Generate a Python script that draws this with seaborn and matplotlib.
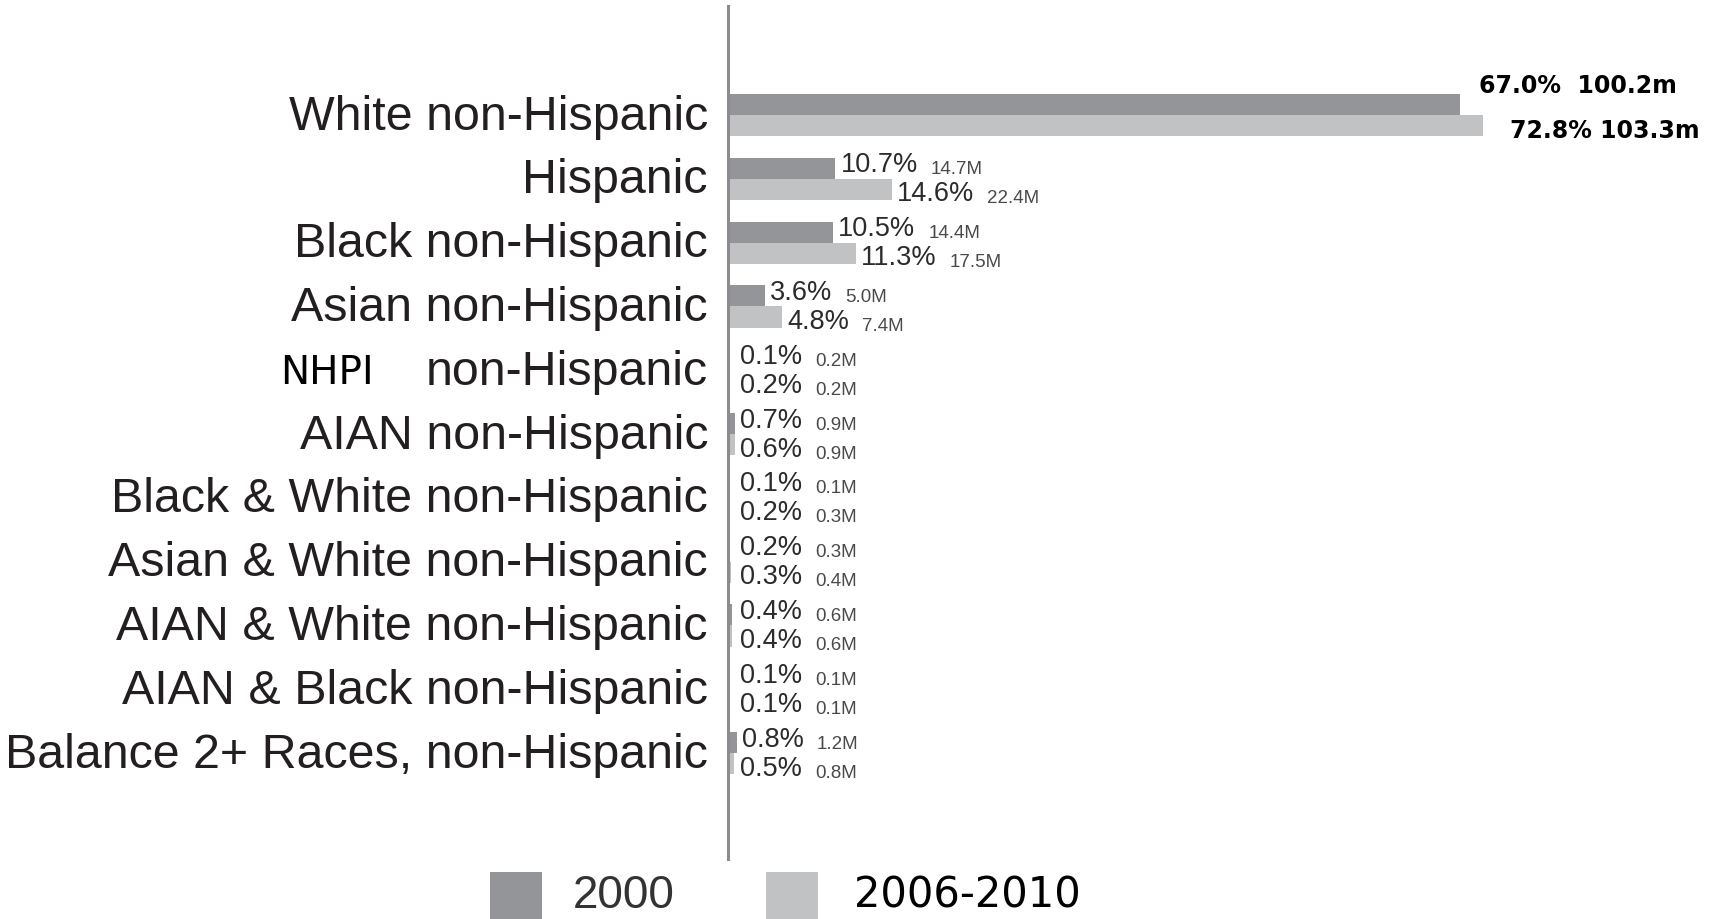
import matplotlib
matplotlib.use('Agg')
import matplotlib.pyplot as plt
from matplotlib.patches import Rectangle
from matplotlib.transforms import ScaledTranslation
import seaborn as sns
import pandas as pd

# data
groups = ["White non-Hispanic", "Hispanic", "Black non-Hispanic", "Asian non-Hispanic",
          "NHPI non-Hispanic", "AIAN non-Hispanic", "Black & White non-Hispanic",
          "Asian & White non-Hispanic", "AIAN & White non-Hispanic",
          "AIAN & Black non-Hispanic", "Balance 2+ Races, non-Hispanic"]
tick_labels = ["White non-Hispanic", "Hispanic", "Black non-Hispanic", "Asian non-Hispanic",
               "non-Hispanic", "AIAN non-Hispanic", "Black & White non-Hispanic",
               "Asian & White non-Hispanic", "AIAN & White non-Hispanic",
               "AIAN & Black non-Hispanic", "Balance 2+ Races, non-Hispanic"]
years = ["2000", "2006-2010"]
pop_2000 = [100.2, 14.7, 14.4, 5.0, 0.2, 0.9, 0.1, 0.3, 0.6, 0.1, 1.2]
pop_2010 = [103.3, 22.4, 17.5, 7.4, 0.2, 0.9, 0.3, 0.4, 0.6, 0.1, 0.8]
pct_2000 = [67.0, 10.7, 10.5, 3.6, 0.1, 0.7, 0.1, 0.2, 0.4, 0.1, 0.8]
pct_2010 = [72.8, 14.6, 11.3, 4.8, 0.2, 0.6, 0.2, 0.3, 0.4, 0.1, 0.5]

DARK = '#939598'
LIGHT = '#c1c2c4'

df = pd.DataFrame({
    'group': groups * 2,
    'pop': pop_2000 + pop_2010,
    'year': [years[0]] * len(groups) + [years[1]] * len(groups),
})

sns.set_style('white')
plt.rcParams['font.family'] = ['Liberation Sans', 'DejaVu Sans']

W, H = 1729, 920
fig = plt.figure(figsize=(W / 100, H / 100), dpi=100)
ax = fig.add_axes([728 / W, 60 / H, 1001 / W, 853 / H])

sns.barplot(data=df, y='group', x='pop', hue='year', palette=[DARK, LIGHT],
            width=0.66, linewidth=0, saturation=1, legend=False, ax=ax)

ax.set_xlim(0, 137)
ax.set_ylim(11.66, -1.71)
ax.set_xlabel('')
ax.set_ylabel('')
ax.set_xticks([])
ax.set_yticks(range(len(groups)))
ax.set_yticklabels(tick_labels)
ax.tick_params(axis='y', length=0, pad=14.4, labelsize=34.8, labelcolor='#231f20')
# row labels sit a little above the bar pair centre
lift = ScaledTranslation(0, 4 / 100, fig.dpi_scale_trans)
for lbl in ax.get_yticklabels():
    lbl.set_transform(lbl.get_transform() + lift)
for s in ['top', 'right', 'bottom']:
    ax.spines[s].set_visible(False)
ax.spines['left'].set_color('#8c8c8c')
ax.spines['left'].set_linewidth(2.2)

# value labels
pcts = [pct_2000, pct_2010]
pops = [pop_2000, pop_2010]
for h, cont in enumerate(ax.containers):
    for i, rect in enumerate(cont):
        yc = rect.get_y() + rect.get_height() / 2
        val = pops[h][i]
        if i == 0:
            # top row labels are bold black, set above/right of the bar
            txt = f"{pcts[h][i]:.1f}%  {val:.1f}m" if h == 0 else f"{pcts[h][i]:.1f}% {val:.1f}m"
            off = (19, 20) if h == 0 else (27, -4)
            ax.annotate(txt, xy=(val, yc), xytext=off, textcoords='offset pixels',
                        ha='left', va='center', fontsize=17, fontweight='bold',
                        color='black', family='DejaVu Sans')
            continue
        dy = -3 if h == 0 else -11
        p = ax.annotate(f"{pcts[h][i]:.1f}%", xy=(max(val, 1.0), yc), xytext=(5, dy),
                        textcoords='offset pixels', ha='left', va='baseline',
                        fontsize=19.5, color='#2b2b2b')
        ax.annotate(f"{val:.1f}M", xy=(1, 0), xycoords=p, xytext=(13, 0),
                    textcoords='offset pixels', ha='left', va='bottom',
                    fontsize=13.5, color='#4a4a4a')

# NHPI prefix overlaid in front of its row label
nhpi_y = ax.get_yticks()[4]
ax.annotate("NHPI", xy=(280 / W, nhpi_y), xycoords=(fig.transFigure, ax.transData),
            xytext=(0, -13), textcoords='offset pixels', ha='left', va='baseline',
            fontsize=28, color='black', family='DejaVu Sans', annotation_clip=False)

# legend at the bottom
fig.patches.append(Rectangle((490 / W, -10 / H), 52 / W, 57 / H, transform=fig.transFigure,
                             facecolor=DARK, edgecolor='none'))
fig.patches.append(Rectangle((766 / W, -10 / H), 52 / W, 57 / H, transform=fig.transFigure,
                             facecolor=LIGHT, edgecolor='none'))
fig.text(573 / W, 12 / H, years[0], ha='left', va='baseline', fontsize=33, color='#333333')
fig.text(854 / W, 12 / H, years[1], ha='left', va='baseline', fontsize=30, color='black',
         family='DejaVu Sans')

fig.savefig('out.png', dpi=100, facecolor='white')
